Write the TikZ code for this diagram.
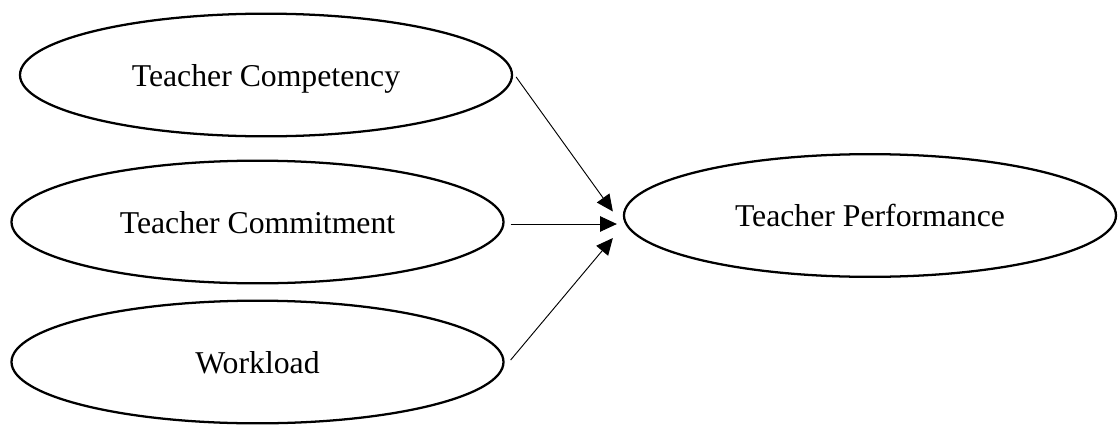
\documentclass[tikz,border=0pt]{standalone}
\usepackage{fontspec}
\setmainfont{Liberation Serif}
\usepackage{tikz}
\usetikzlibrary{shapes.geometric,arrows.meta}

\begin{document}
\begin{tikzpicture}[x=0.75pt, y=-0.75pt,
  construct/.style={ellipse, draw, line width=1.7pt, inner sep=0pt,
    minimum width=369pt, minimum height=92pt,
    font=\fontsize{23.8}{28}\selectfont, text depth=0pt}]
\useasboundingbox (0,0) rectangle (1118,425);
\node (comp)   [construct] at (266,75)    {Teacher Competency};
\node (commit) [construct] at (257.5,222) {Teacher Commitment};
\node (work)   [construct] at (257.5,362) {Workload};
\node (perf)   [construct] at (870,215.5) {Teacher Performance};
\path[-{Triangle[length=12.5pt,width=11.5pt]}, line width=0.7pt]
([shift={(3,2)}]comp.east)    edge ([shift={(-10,-4)}]perf.west)
([shift={(6,2)}]commit.east)  edge ([shift={(-6,8.5)}]perf.west)
([shift={(6,-2)}]work.east)   edge ([shift={(-10,22.5)}]perf.west);
\end{tikzpicture}
\end{document}
